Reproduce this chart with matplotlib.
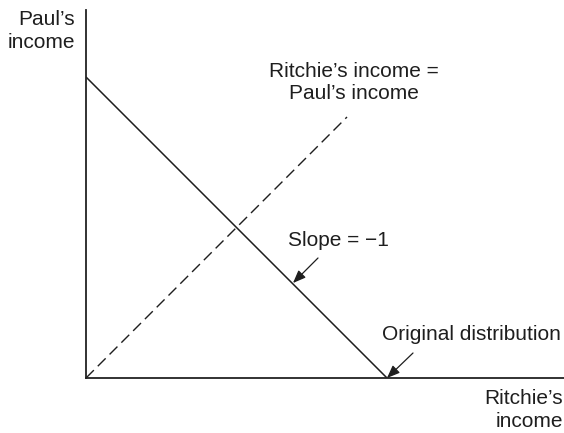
import matplotlib.pyplot as plt

# Distribution of income between Ritchie and Paul
total_income = 301
budget_x = [0, total_income]
budget_y = [total_income, 0]
equal_x = [0, 261]
equal_y = [0, 261]

plt.rcParams['font.family'] = ['Liberation Sans', 'DejaVu Sans']

fig = plt.figure(figsize=(5.64, 4.33), dpi=100)
ax = fig.add_axes([86 / 564, 55 / 433, 478 / 564, 368 / 433])
ax.set_xlim(0, 478)
ax.set_ylim(0, 368)
ax.set_xticks([])
ax.set_yticks([])
for s in ['top', 'right']:
    ax.spines[s].set_visible(False)
for s in ['left', 'bottom']:
    ax.spines[s].set_linewidth(1.3)
    ax.spines[s].set_color('#222222')

ink = '#1e1e1e'
ax.plot(budget_x, budget_y, color=ink, lw=1.1, solid_capstyle='butt')
ax.plot(equal_x, equal_y, color=ink, lw=1.0, dashes=(8, 4))

fs = 15
ax.text(-11, 368, "Paul’s\nincome", ha='right', va='top', fontsize=fs,
        color=ink, linespacing=1.25)
ax.text(477, -11, "Ritchie’s\nincome", ha='right', va='top', fontsize=fs,
        color=ink, linespacing=1.25)
ax.text(268, 316, "Ritchie’s income =\nPaul’s income", ha='center', va='top',
        fontsize=fs, color=ink, linespacing=1.2)

arrow = dict(arrowstyle='-|>,head_length=0.55,head_width=0.22', color=ink,
             lw=0.9, mutation_scale=14, shrinkA=0, shrinkB=0)
ax.annotate("", xy=(207, 95), xytext=(232, 120), arrowprops=arrow)
ax.text(252, 137, "Slope = −1", ha='center', va='center', fontsize=fs,
        color=ink)
ax.annotate("", xy=(total_income, 0), xytext=(327, 25), arrowprops=arrow)
ax.text(296, 43, "Original distribution", ha='left', va='center',
        fontsize=fs, color=ink)

fig.savefig('out.png', dpi=100)
